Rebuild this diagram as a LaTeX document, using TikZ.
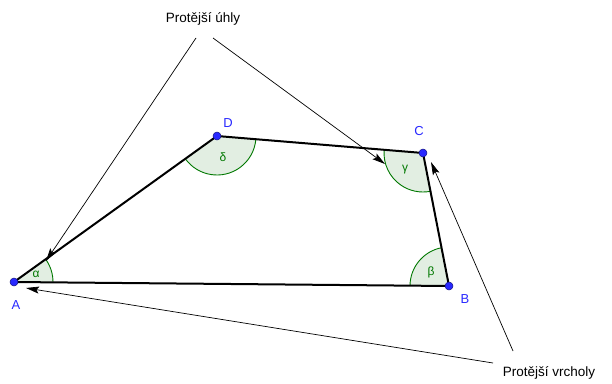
\documentclass[tikz,border=0pt]{standalone}
\usepackage{fontspec}
\setmainfont{Liberation Sans}
\usetikzlibrary{arrows.meta,angles}
\definecolor{ggblue}{RGB}{40,40,255}
\definecolor{gggreen}{RGB}{0,120,0}
\definecolor{ggfill}{RGB}{226,238,226}
\tikzset{
  pt/.style={circle,fill=ggblue,draw=ggblue!50!black,line width=0.5pt,inner sep=0pt,minimum size=8pt},
  edge/.style={line width=2pt,black},
  pointer/.style={line width=0.7pt,black,-{Stealth[length=13pt,width=7pt,inset=2.5pt]}},
  vlabel/.style={text=ggblue,font=\fontsize{13}{15}\selectfont},
  alabel/.style={text=gggreen,font=\fontsize{12}{14}\selectfont},
  tlabel/.style={text=black,font=\fontsize{13.5}{16}\selectfont},
  ang/.style={draw=gggreen,fill=ggfill,line width=0.9pt,angle radius=39pt}
}
\begin{document}
\begin{tikzpicture}[x=1pt,y=-1pt]
\useasboundingbox (0,0) rectangle (612,383);
\coordinate (A) at (14,282);
\coordinate (B) at (449,286);
\coordinate (C) at (423,153);
\coordinate (D) at (217,136);
% angles
\pic[ang] {angle = B--A--D};
\pic[ang] {angle = C--B--A};
\pic[ang] {angle = D--C--B};
\pic[ang] {angle = A--D--C};
% edges
\draw[edge,line join=round] (A) -- (B) -- (C) -- (D) -- cycle;
% points
\node[pt] (pA) at (A) {};
\node[pt] (pB) at (B) {};
\node[pt] (pC) at (C) {};
\node[pt] (pD) at (D) {};
% vertex labels
\node[vlabel] (lA) at (16,305) {A};
\node[vlabel] (lB) at (465,299) {B};
\node[vlabel] (lC) at (419,131) {C};
\node[vlabel] (lD) at (228,123) {D};
% angle labels
\node[alabel] (la) at (36,274) {α};
\node[alabel] (lb) at (431,272) {β};
\node[alabel] (lg) at (405,170) {γ};
\node[alabel] (ld) at (223,157) {δ};
% texts
\node[tlabel] (t1) at (203,19) {Protější úhly};
\node[tlabel] (t2) at (549,373) {Protější vrcholy};
% pointer ends
\coordinate (s1) at (196,38);
\coordinate (e1) at (46,261);
\coordinate (s2) at (213,38);
\coordinate (e2) at (385,164);
\coordinate (s3) at (513,351);
\coordinate (e3) at (431,162);
\coordinate (s4) at (493,363);
\coordinate (e4) at (26,288);
\draw[pointer] (s1) -- (e1);
\draw[pointer] (s2) -- (e2);
\draw[pointer] (s3) -- (e3);
\draw[pointer] (s4) -- (e4);
\end{tikzpicture}
\end{document}
